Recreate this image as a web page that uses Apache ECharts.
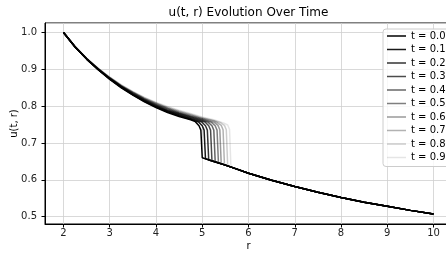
<!DOCTYPE html>
<html>
<head>
<meta charset="utf-8">
<script src="https://cdn.jsdelivr.net/npm/echarts@6/dist/echarts.min.js"></script>
<style>
  html, body { margin: 0; padding: 0; background: #fff; }
  #chart { width: 446px; height: 253px; }
</style>
</head>
<body>
<div id="chart"></div>
<script>
// 数据：每条曲线 = 激波前段 + 激波 + 激波后段
var times = ['0.0', '0.1', '0.2', '0.3', '0.4', '0.5', '0.6', '0.7', '0.8', '0.9'];
var alphas = [1.0, 0.9, 0.8, 0.7, 0.6, 0.5, 0.4, 0.3, 0.2, 0.1];

// 激波前
var preR = [2.0, 2.25, 2.5, 2.75, 3.0, 3.25, 3.5, 3.75, 4.0, 4.25, 4.5, 4.75, 5.0, 5.25];
var preU = [
    [1.000, 0.961, 0.928, 0.899, 0.873, 0.850, 0.830, 0.812, 0.796, 0.783, 0.772, 0.763],
    [1.000, 0.961, 0.928, 0.899, 0.874, 0.851, 0.831, 0.813, 0.798, 0.785, 0.774, 0.765],
    [1.000, 0.961, 0.928, 0.900, 0.874, 0.852, 0.832, 0.815, 0.799, 0.787, 0.776, 0.767],
    [1.000, 0.961, 0.929, 0.900, 0.875, 0.853, 0.833, 0.816, 0.801, 0.788, 0.778, 0.769],
    [1.000, 0.961, 0.929, 0.901, 0.876, 0.854, 0.834, 0.817, 0.803, 0.790, 0.780, 0.771, 0.762],
    [1.000, 0.962, 0.929, 0.901, 0.876, 0.854, 0.836, 0.819, 0.804, 0.792, 0.781, 0.772, 0.764],
    [1.000, 0.962, 0.929, 0.902, 0.877, 0.855, 0.837, 0.820, 0.806, 0.794, 0.783, 0.774, 0.766],
    [1.000, 0.962, 0.930, 0.902, 0.878, 0.856, 0.838, 0.821, 0.808, 0.795, 0.785, 0.776, 0.767, 0.760],
    [1.000, 0.962, 0.930, 0.903, 0.878, 0.857, 0.839, 0.823, 0.809, 0.797, 0.787, 0.778, 0.769, 0.761],
    [1.000, 0.962, 0.930, 0.903, 0.879, 0.858, 0.840, 0.824, 0.811, 0.799, 0.789, 0.780, 0.771, 0.763]
];

// 激波（前沿下弯 -> 顶点 -> 拐角 -> 底部）
var dipR = [4.85, 4.92, 4.99, 5.06, 5.13, 5.20, 5.26, 5.33, 5.40, 5.47];
var dipU = [0.758, 0.757, 0.757, 0.757, 0.756, 0.756, 0.756, 0.755, 0.755, 0.754];
var topR = [4.93, 5.00, 5.07, 5.14, 5.21, 5.28, 5.34, 5.41, 5.48, 5.55];
var topU = [0.747, 0.747, 0.747, 0.747, 0.747, 0.747, 0.748, 0.748, 0.748, 0.749];
var kneeR = [4.97, 5.04, 5.11, 5.18, 5.25, 5.32, 5.38, 5.45, 5.52, 5.59];
var kneeU = [0.735, 0.735, 0.735, 0.735, 0.735, 0.735, 0.736, 0.736, 0.736, 0.737];
var footR = [5.00, 5.07, 5.14, 5.21, 5.28, 5.35, 5.41, 5.48, 5.55, 5.62];
var footU = [0.660, 0.657, 0.654, 0.652, 0.649, 0.646, 0.644, 0.641, 0.638, 0.635];

// 激波后
var postR = [5.25, 5.5, 5.75, 6.0, 6.5, 7.0, 7.5, 8.0, 8.5, 9.0, 9.5, 10.0];
var postU = [0.650, 0.640, 0.629, 0.618, 0.599, 0.582, 0.566, 0.552, 0.539, 0.528, 0.517, 0.507];

var xTicks = [2, 3, 4, 5, 6, 7, 8, 9, 10];
var yTicks = [0.5, 0.6, 0.7, 0.8, 0.9, 1.0];

function buildCurve(k) {
    var pts = [];
    for (var i = 0; i < preU[k].length; i++) {
        pts.push([preR[i], preU[k][i]]);
    }
    pts.push([dipR[k], dipU[k]]);
    pts.push([topR[k], topU[k]]);
    pts.push([kneeR[k], kneeU[k]]);
    pts.push([footR[k], footU[k]]);
    for (var j = 0; j < postR.length; j++) {
        if (postR[j] > footR[k]) pts.push([postR[j], postU[j]]);
    }
    return pts;
}

var series = [];
for (var k = 0; k < times.length; k++) {
    series.push({
        name: 't = ' + times[k],
        type: 'line',
        data: buildCurve(k),
        symbol: 'none',
        showSymbol: false,
        smooth: false,
        lineStyle: {width: 1.5, color: 'rgba(0,0,0,' + alphas[k] + ')'},
        itemStyle: {color: 'rgba(0,0,0,' + alphas[k] + ')'},
        emphasis: {disabled: true},
        z: 2 + k
    });
}

var font = 'DejaVu Sans';
var myChart = echarts.init(document.getElementById('chart'));
var option = {
    animation: false,
    backgroundColor: '#fff',
    title: {
        text: 'u(t, r) Evolution Over Time',
        left: 248.5,
        top: 7,
        padding: 0,
        textAlign: 'center',
        textStyle: {fontFamily: font, fontSize: 12, fontWeight: 'normal', color: '#000'}
    },
    grid: {
        left: 45,
        top: 23,
        width: 407,
        height: 201,
        containLabel: false,
        outerBoundsMode: 'none',
        show: true,
        borderColor: '#000',
        borderWidth: 1,
        backgroundColor: 'transparent'
    },
    legend: {
        orient: 'vertical',
        left: 383,
        top: 29,
        padding: [1, 8, 3, 4],
        icon: 'rect',
        itemWidth: 19,
        itemHeight: 1.5,
        itemGap: 1.5,
        backgroundColor: 'rgba(255,255,255,0.8)',
        borderColor: '#cccccc',
        borderWidth: 1,
        borderRadius: 3,
        textStyle: {fontFamily: font, fontSize: 10, color: '#000', lineHeight: 12},
        data: series.map(function (s) { return s.name; })
    },
    xAxis: {
        type: 'value',
        min: 1.6,
        max: 10.4,
        minInterval: 1,
        maxInterval: 1,
        name: 'r',
        nameLocation: 'middle',
        nameGap: 17,
        nameMoveOverlap: false,
        nameTextStyle: {fontFamily: font, fontSize: 10, color: '#000'},
        axisLine: {show: true, lineStyle: {color: '#000', width: 1}},
        axisTick: {show: true, inside: false, length: 3.5, lineStyle: {color: '#000', width: 1}},
        axisLabel: {
            fontFamily: font, fontSize: 10, color: '#222', margin: 4,
            showMinLabel: false, showMaxLabel: false,
            formatter: function (v) { return xTicks.indexOf(Math.round(v)) >= 0 ? String(Math.round(v)) : ''; }
        },
        splitLine: {show: true, lineStyle: {color: '#cfcfcf', width: 0.8}}
    },
    yAxis: {
        type: 'value',
        min: 0.48,
        max: 1.026,
        minInterval: 0.1,
        maxInterval: 0.1,
        name: 'u(t, r)',
        nameLocation: 'middle',
        nameGap: 26,
        nameMoveOverlap: false,
        nameTextStyle: {fontFamily: font, fontSize: 10, color: '#000'},
        axisLine: {show: true, lineStyle: {color: '#000', width: 1}},
        axisTick: {show: true, inside: false, length: 3.5, lineStyle: {color: '#000', width: 1}},
        axisLabel: {
            fontFamily: font, fontSize: 10, color: '#222', margin: 8,
            showMinLabel: false, showMaxLabel: false,
            formatter: function (v) { return v.toFixed(1); }
        },
        splitLine: {show: true, lineStyle: {color: '#cfcfcf', width: 0.8}}
    },
    series: series
};
myChart.setOption(option, true);
</script>
</body>
</html>
